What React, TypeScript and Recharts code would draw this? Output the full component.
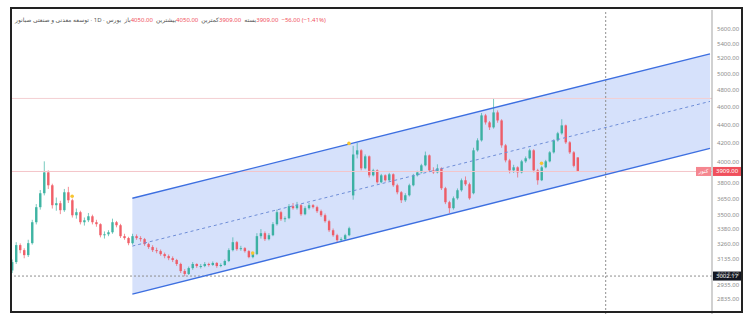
import React from 'react'
import { ComposedChart, Bar, Line, Area, XAxis, YAxis, ReferenceLine, ReferenceDot } from 'recharts'

// daily candles (one slot per candle, empty slots to the right)
const opens = [
  3045, 3110, 3246, 3205, 3165, 3262, 3439, 3572, 3700, 3900,
  3775, 3590, 3608, 3545, 3709, 3635, 3500, 3527, 3439, 3456,
  3491, 3439, 3422, 3328, 3336, 3353, 3439, 3413, 3320, 3304,
  3262, 3320, 3304, 3295, 3254, 3230, 3205, 3197, 3173, 3157,
  3141, 3126, 3095, 3040, 3018, 3063, 3095, 3075, 3079, 3095,
  3087, 3103, 3079, 3087, 3118, 3205, 3270, 3213, 3221, 3197,
  3149, 3173, 3320, 3345, 3295, 3328, 3422, 3527, 3465, 3474,
  3581, 3563, 3590, 3509, 3563, 3590, 3572, 3536, 3500, 3448,
  3370, 3328, 3287, 3295, 3328, 3680, 4080, 4123, 3940, 4061,
  3871, 3920, 3804, 3871, 3823, 3881, 3775, 3709, 3635, 3681,
  3775, 3871, 3900, 3970, 4071, 3920, 3900, 3940, 3747, 3617,
  3563, 3653, 3728, 3823, 3785, 3700, 4123, 4228, 4503, 4424,
  4369, 4537, 4446, 4175, 4020, 3920, 3950, 3900, 4010, 4041,
  4123, 3920, 3823, 3950, 4010, 4102, 4228, 4304, 4391, 4207,
  4102, 4050,
]
const highs = [
  3130, 3270, 3260, 3220, 3290, 3460, 3600, 3730, 4010, 3920,
  3790, 3660, 3630, 3740, 3760, 3650, 3560, 3540, 3480, 3520,
  3505, 3460, 3430, 3360, 3370, 3470, 3450, 3425, 3340, 3315,
  3340, 3335, 3320, 3305, 3265, 3245, 3225, 3210, 3185, 3170,
  3155, 3135, 3105, 3055, 3075, 3110, 3100, 3095, 3110, 3105,
  3115, 3110, 3100, 3130, 3220, 3310, 3280, 3240, 3230, 3205,
  3185, 3345, 3380, 3360, 3345, 3440, 3550, 3540, 3490, 3600,
  3610, 3620, 3600, 3580, 3610, 3600, 3585, 3550, 3515, 3460,
  3385, 3340, 3310, 3340, 3400, 4170, 4200, 4135, 4080, 4070,
  3935, 3930, 3885, 3880, 3895, 3890, 3790, 3720, 3700, 3790,
  3885, 3915, 3985, 4110, 4080, 3950, 3980, 3950, 3760, 3630,
  3670, 3745, 3840, 3860, 3800, 4150, 4250, 4530, 4520, 4440,
  4700, 4560, 4460, 4190, 4035, 3975, 3960, 4025, 4060, 4140,
  4135, 3935, 3965, 4025, 4115, 4240, 4320, 4460, 4400, 4220,
  4115, 4050,
]
const lows = [
  3025, 3095, 3180, 3140, 3150, 3250, 3420, 3550, 3680, 3740,
  3560, 3540, 3510, 3530, 3610, 3480, 3470, 3420, 3410, 3440,
  3420, 3400, 3310, 3300, 3320, 3340, 3395, 3305, 3290, 3245,
  3250, 3290, 3275, 3240, 3215, 3190, 3180, 3160, 3140, 3125,
  3110, 3080, 3025, 3000, 3010, 3050, 3065, 3060, 3070, 3075,
  3080, 3065, 3070, 3080, 3110, 3195, 3200, 3200, 3185, 3140,
  3140, 3165, 3300, 3280, 3285, 3320, 3410, 3450, 3440, 3465,
  3550, 3550, 3495, 3500, 3550, 3560, 3520, 3485, 3435, 3355,
  3315, 3270, 3275, 3285, 3320, 3640, 4040, 3920, 3930, 3850,
  3860, 3790, 3795, 3810, 3815, 3760, 3690, 3610, 3620, 3670,
  3765, 3860, 3890, 3960, 3905, 3885, 3890, 3730, 3600, 3520,
  3550, 3640, 3715, 3770, 3640, 3690, 4110, 4215, 4400, 4340,
  4355, 4420, 4150, 4000, 3890, 3895, 3850, 3890, 3995, 4030,
  3900, 3780, 3815, 3940, 4000, 4090, 4215, 4290, 4190, 4085,
  3950, 3909,
]
const closes = [
  3110, 3246, 3205, 3165, 3262, 3439, 3572, 3700, 3900, 3775,
  3590, 3608, 3545, 3709, 3635, 3500, 3527, 3439, 3456, 3491,
  3439, 3422, 3328, 3336, 3353, 3439, 3413, 3320, 3304, 3262,
  3320, 3304, 3295, 3254, 3230, 3205, 3197, 3173, 3157, 3141,
  3126, 3095, 3040, 3018, 3063, 3095, 3079, 3079, 3095, 3087,
  3103, 3079, 3087, 3118, 3205, 3270, 3213, 3221, 3197, 3149,
  3173, 3320, 3345, 3295, 3328, 3422, 3527, 3465, 3474, 3581,
  3563, 3590, 3509, 3563, 3590, 3572, 3536, 3500, 3448, 3370,
  3328, 3287, 3295, 3328, 3387, 4080, 4123, 3940, 4061, 3871,
  3920, 3804, 3871, 3823, 3881, 3775, 3709, 3635, 3681, 3775,
  3871, 3900, 3970, 4071, 3920, 3900, 3940, 3747, 3617, 3563,
  3653, 3728, 3823, 3785, 3653, 4123, 4228, 4503, 4424, 4369,
  4537, 4446, 4175, 4020, 3920, 3950, 3900, 4010, 4041, 4123,
  3920, 3823, 3950, 4010, 4102, 4228, 4304, 4391, 4207, 4102,
  3965, 3909,
]
const slotCount = 175

const priceTicks = [5600, 5400, 5200, 5000, 4800, 4600, 4400, 4200, 4000, 3800, 3650, 3500, 3380, 3260, 3135, 3015, 2935, 2835]

// parallel channel, two anchor points each
const channelIdx = [30, 174]
const channelUpper = [3653, 5260]
const channelMid = [3238, 4665]
const channelLower = [2868, 4144]

const eventIdx = [15, 60, 84, 132]
const eventPrice = [3672, 3181, 4196, 3990]

const lastPrice = 3909
const markPrice = 3002.17
const highLine = 4700
const crosshairIdx = 148

const title = 'توسعه معدنی و صنعتی صبانور'
const ticker = 'کنور'
const legendItems = [
  ['باز', '4050.00'],
  ['بیشترین', '4050.00'],
  ['کمترین', '3909.00'],
  ['بسته', '3909.00'],
]
const change = '−56.00 (−1.41%)'

const UP = '#2fae9c'
const DOWN = '#f0525c'
const FONT = "'Noto Sans', 'DejaVu Sans', sans-serif"

const data = Array.from({ length: slotCount }, (_, i) => {
  const row: any = { i }
  if (i < closes.length) {
    row.o = opens[i]
    row.c = closes[i]
    row.h = highs[i]
    row.l = lows[i]
    row.range = [lows[i], highs[i]]
  }
  const k = channelIdx.indexOf(i)
  if (k >= 0) {
    row.upper = channelUpper[k]
    row.mid = channelMid[k]
    row.lower = channelLower[k]
    row.band = [channelLower[k], channelUpper[k]]
  }
  return row
})

const Candle = (props: any) => {
  const { x, y, width, height, payload } = props
  if (!payload || payload.o == null) return null
  const top = Math.min(y, y + height)
  const h = Math.abs(height)
  const lh = Math.log(payload.h)
  const ll = Math.log(payload.l)
  // log axis: place open / close inside the high-low span
  const py = (v: number) => top + ((lh - Math.log(v)) / (lh - ll)) * h
  const yo = py(payload.o)
  const yc = py(payload.c)
  const color = payload.c >= payload.o ? UP : DOWN
  const cx = x + width / 2
  return (
    <g opacity={0.92}>
      <line x1={cx} x2={cx} y1={top} y2={top + h} stroke={color} strokeWidth={0.7} />
      <rect x={x} y={Math.min(yo, yc)} width={width} height={Math.max(1, Math.abs(yc - yo))} fill={color} />
    </g>
  )
}

const PriceTag = ({ viewBox, text, bg, tag }: any) => {
  if (!viewBox) return null
  const right = viewBox.x + viewBox.width
  const y = viewBox.y
  return (
    <g>
      {tag && (
        <g>
          <rect x={right - 16} y={y - 4.5} width={15} height={9} fill="#f5868f" />
          <text x={right - 8.5} y={y + 2} textAnchor="middle" fontSize={5.5} fill="#fff" fontFamily={FONT}>{tag}</text>
        </g>
      )}
      <rect x={right + 1} y={y - 4.5} width={29} height={9} fill={bg} />
      <text x={right + 4} y={y + 2} fontSize={6} fill="#fff" fontFamily={FONT}>{text}</text>
    </g>
  )
}

export default function App() {
  return (
    <div style={{ position: 'relative', width: 751, height: 325, background: '#fff', overflow: 'hidden' }}>
      <style>{'body{margin:0}'}</style>
      <ComposedChart
        width={751}
        height={325}
        data={data}
        margin={{ top: 10, right: 0, bottom: 11, left: 10 }}
        barCategoryGap={0}
        style={{ position: 'absolute', left: 0, top: 0 }}
      >
        <XAxis dataKey="i" hide />
        <YAxis
          orientation="right"
          width={39}
          scale="log"
          domain={[2728, 5875]}
          allowDataOverflow
          ticks={priceTicks}
          interval={0}
          tickSize={0}
          tickMargin={5}
          tickLine={false}
          axisLine={{ stroke: '#a3a3a3' }}
          tick={{ fontSize: 6, fill: '#8c8c8c', fontFamily: FONT }}
          tickFormatter={(v: number) => v.toFixed(2)}
        />
        <Area
          dataKey="band"
          connectNulls
          stroke="none"
          fill="#d6e1fb"
          fillOpacity={1}
          isAnimationActive={false}
        />
        <ReferenceLine y={highLine} stroke="#f4cfd2" strokeWidth={1} />
        <ReferenceLine
          y={lastPrice}
          stroke="#f4c4c8"
          strokeWidth={1}
          label={<PriceTag text="3909.00" bg="#f0505c" tag={ticker} />}
        />
        <ReferenceLine
          y={markPrice}
          stroke="#8f8f8f"
          strokeDasharray="2 2"
          label={<PriceTag text="3002.17" bg="#131722" />}
        />
        <ReferenceLine x={crosshairIdx} stroke="#8f8f8f" strokeDasharray="2 2" />
        <Line dataKey="upper" connectNulls dot={false} stroke="#3d6fe0" strokeWidth={1.4} isAnimationActive={false} />
        <Line dataKey="lower" connectNulls dot={false} stroke="#3d6fe0" strokeWidth={1.4} isAnimationActive={false} />
        <Line dataKey="mid" connectNulls dot={false} stroke="#6f8ed8" strokeWidth={1} strokeDasharray="3 3" isAnimationActive={false} />
        <Bar dataKey="range" barSize={2.4} shape={Candle} isAnimationActive={false} />
        {eventIdx.map((idx, k) => (
          <ReferenceDot key={idx} x={idx} y={eventPrice[k]} r={1.8} fill="#f7c531" stroke="none" />
        ))}
      </ComposedChart>
      <div
        style={{
          position: 'absolute', left: 15, top: 16, fontSize: 6, fontFamily: FONT,
          color: '#555', whiteSpace: 'nowrap', direction: 'ltr',
        }}
      >
        <span style={{ unicodeBidi: 'isolate', direction: 'rtl' }}>{title}</span>
        <span> · 1D · </span>
        <span style={{ unicodeBidi: 'isolate', direction: 'rtl' }}>بورس</span>
        {legendItems.map(([label, value]) => (
          <span key={label} style={{ marginLeft: 3 }}>
            <span style={{ unicodeBidi: 'isolate', direction: 'rtl' }}>{label}</span>
            <span style={{ color: '#f0505c' }}>{value}</span>
          </span>
        ))}
        <span style={{ color: '#f0505c', marginLeft: 3 }}>{change}</span>
      </div>
      <div
        style={{
          position: 'absolute', left: 10, top: 7, width: 733, height: 306,
          border: '2px solid #222', boxSizing: 'border-box', pointerEvents: 'none',
        }}
      />
    </div>
  )
}
